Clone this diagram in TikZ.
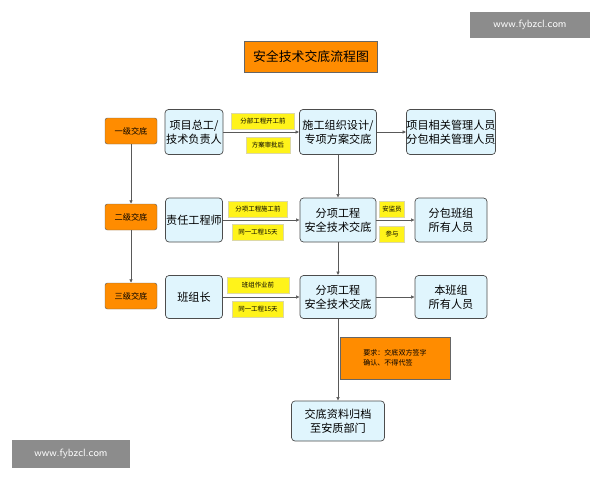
\documentclass[tikz,border=0pt]{standalone}
\usepackage{fontspec}
\newfontfamily\cjk{Noto Sans CJK SC}
\usetikzlibrary{arrows.meta}
\begin{document}
\begin{tikzpicture}[x=0.03cm,y=-0.03cm,font=\cjk,
 bl/.style={draw=black!70,fill=cyan!12,rounded corners=3pt,line width=0.6pt,align=center,inner sep=0pt,font=\cjk\fontsize{9.5}{12}\selectfont},
 lv/.style={draw=black!60,fill=orange!90!yellow,rounded corners=2pt,minimum width=52*0.03cm,minimum height=26*0.03cm,inner sep=0pt,font=\cjk\fontsize{7}{8}\selectfont},
 yl/.style={fill=yellow!90!white,draw=yellow!60!black!40,inner sep=0pt,minimum height=16*0.03cm,font=\cjk\fontsize{5.5}{6}\selectfont},
 ar/.style={draw=black!65,line width=0.5pt,-{Latex[length=3pt,width=3pt]}},
 wm/.style={fill=black!45,text=white,inner sep=0pt,font=\sffamily\fontsize{9}{10}\selectfont}]
\useasboundingbox (0,0) rectangle (600,480);
\node[wm,minimum width=120*0.03cm,minimum height=26*0.03cm] (w1) at (530,25) {www.fybzcl.com};
\node[wm,minimum width=118*0.03cm,minimum height=28*0.03cm] (w2) at (71,454) {www.fybzcl.com};
\node[draw=black!60,fill=orange!90!yellow,minimum width=133*0.03cm,minimum height=31*0.03cm,inner sep=0pt,font=\cjk\fontsize{11}{12}\selectfont] (t) at (311,57) {安全技术交底流程图};
\node[lv] (l1) at (131,131) {一级交底};
\node[lv] (l2) at (131,217) {二级交底};
\node[lv] (l3) at (131,296) {三级交底};
\node[bl,minimum width=58*0.03cm,minimum height=45*0.03cm] (a1) at (194,132) {项目总工/\\技术负责人};
\node[bl,minimum width=57*0.03cm,minimum height=44*0.03cm] (a2) at (194,220) {责任工程师};
\node[bl,minimum width=57*0.03cm,minimum height=43*0.03cm] (a3) at (194,297) {班组长};
\node[bl,minimum width=77*0.03cm,minimum height=45*0.03cm] (b1) at (338,132) {施工组织设计/\\专项方案交底};
\node[bl,minimum width=76*0.03cm,minimum height=44*0.03cm] (b2) at (338,220) {分项工程\\安全技术交底};
\node[bl,minimum width=76*0.03cm,minimum height=43*0.03cm] (b3) at (338,297) {分项工程\\安全技术交底};
\node[bl,minimum width=88*0.03cm,minimum height=45*0.03cm] (c1) at (451,132) {项目相关管理人员\\分包相关管理人员};
\node[bl,minimum width=72*0.03cm,minimum height=44*0.03cm] (c2) at (451,220) {分包班组\\所有人员};
\node[bl,minimum width=72*0.03cm,minimum height=43*0.03cm] (c3) at (451,297) {本班组\\所有人员};
\node[draw=black!60,fill=orange!90!yellow,minimum width=110*0.03cm,minimum height=42*0.03cm,inner sep=4pt,align=left,font=\cjk\fontsize{6}{9}\selectfont] (r) at (395,358) {要求：交底双方签字\\确认、不得代签};
\node[bl,minimum width=93*0.03cm,minimum height=40*0.03cm] (f) at (338,421) {交底资料归档\\至安质部门};
\node[yl,minimum width=63*0.03cm] (y1) at (263,121) {分部工程开工前};
\node[yl,minimum width=44*0.03cm] (y2) at (268,145) {方案审批后};
\node[yl,minimum width=59*0.03cm] (y3) at (258,209) {分项工程施工前};
\node[yl,minimum width=51*0.03cm] (y4) at (258,232) {同一工程15天};
\node[yl,minimum width=62*0.03cm] (y5) at (258,285) {班组作业前};
\node[yl,minimum width=51*0.03cm] (y6) at (258,309) {同一工程15天};
\node[yl,minimum width=25*0.03cm] (y7) at (392,209) {安监员};
\node[yl,minimum width=25*0.03cm] (y8) at (392,234) {参与};
\draw[ar] (l1) -- (l2);
\draw[ar] (l2) -- (l3);
\draw[ar] (a1) -- (b1);
\draw[ar] (a2) -- (b2);
\draw[ar] (a3) -- (b3);
\draw[ar] (b1) -- (c1);
\draw[ar] (b2) -- (c2);
\draw[ar] (b3) -- (c3);
\draw[ar] (b1) -- (b2);
\draw[ar] (b2) -- (b3);
\draw[ar] (b3) -- (f);
\end{tikzpicture}
\end{document}
